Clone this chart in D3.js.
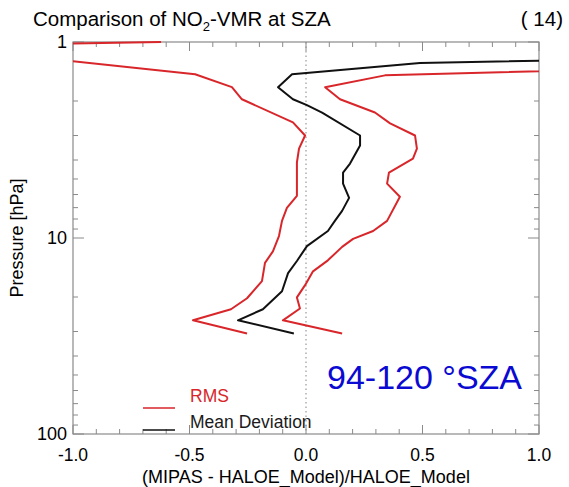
<!DOCTYPE html>
<html>
<head>
<meta charset="utf-8">
<script src="https://cdn.jsdelivr.net/npm/d3@7"></script>
<style>
  body { margin: 0; background: #fff; }
  svg text { font-family: "Liberation Sans", Arial, sans-serif; }
</style>
</head>
<body>
<svg id="chart" width="569" height="487"></svg>
<script>
// [value, pressure hPa] pairs
const rmsLeft = [
    [-0.622, 1.0], [-1.6, 1.05], [-0.476, 1.46], [-0.318, 1.70], [-0.275, 1.96],
    [-0.056, 2.57], [-0.004, 3.0], [-0.030, 3.50], [-0.039, 4.12], [-0.039, 6.09],
    [-0.082, 7.02], [-0.103, 8.18], [-0.116, 9.77], [-0.142, 11.7], [-0.176, 13.4],
    [-0.189, 16.6], [-0.253, 20.3], [-0.322, 23.1], [-0.485, 26.3], [-0.253, 30.7]
];
const meanDev = [
    [1.4, 1.22], [0.489, 1.28], [-0.060, 1.46], [-0.120, 1.70], [-0.056, 1.96],
    [0.004, 2.10], [0.069, 2.29], [0.232, 3.0], [0.232, 3.37], [0.189, 4.17],
    [0.159, 4.64], [0.159, 5.28], [0.185, 6.24], [0.155, 7.27], [0.124, 8.18],
    [0.094, 9.21], [0.004, 11.0], [-0.039, 13.1], [-0.077, 15.1], [-0.103, 18.7],
    [-0.185, 23.1], [-0.292, 26.3], [-0.052, 30.7]
];
const rmsRight = [
    [1.4, 1.37], [0.339, 1.48], [0.082, 1.70], [0.146, 1.96], [0.296, 2.29],
    [0.361, 2.60], [0.468, 3.0], [0.476, 3.50], [0.459, 3.94], [0.356, 4.64],
    [0.348, 5.28], [0.403, 6.16], [0.348, 8.18], [0.288, 9.21], [0.202, 10.1],
    [0.155, 11.1], [0.094, 13.0], [0.030, 14.8], [-0.004, 17.4], [-0.039, 20.1],
    [-0.026, 22.9], [-0.099, 26.3], [0.155, 30.7]
];

const xMajor = [-1.0, -0.5, 0.0, 0.5, 1.0];
const yMajor = [1, 10, 100];
const legendItems = ["RMS", "Mean Deviation"];

const RED = "#d8262a";
const BLACK = "#111";
const FRAME = "#8a8a8a";

const svg = d3.select("#chart");
const plot = {left: 73, right: 539, top: 42, bottom: 434};

const x = d3.scaleLinear().domain([-1, 1]).range([plot.left, plot.right]);
const y = d3.scaleLog().domain([1, 100]).range([plot.top, plot.bottom]);

svg.append("clipPath").attr("id", "clip")
  .append("rect")
    .attr("x", plot.left).attr("y", plot.top - 1)
    .attr("width", plot.right - plot.left).attr("height", plot.bottom - plot.top + 1);

// zero line
svg.append("line")
    .attr("x1", x(0)).attr("x2", x(0))
    .attr("y1", plot.top).attr("y2", plot.bottom)
    .attr("stroke", "#999").attr("stroke-width", 1.2)
    .attr("stroke-dasharray", "1.5,3");

// frame
svg.append("rect")
    .attr("x", plot.left).attr("y", plot.top)
    .attr("width", plot.right - plot.left).attr("height", plot.bottom - plot.top)
    .attr("fill", "none").attr("stroke", FRAME).attr("stroke-width", 1.2);

// inward ticks
const xMinor = d3.range(-10, 11).map(d => d / 10);
const yMinor = [];
[1, 10].forEach(dec => d3.range(1, 10).forEach(k => yMinor.push(dec * k)));
yMinor.push(100);

const ticks = svg.append("g").attr("stroke", FRAME).attr("stroke-width", 1);
xMinor.forEach(v => {
    const major = xMajor.some(m => Math.abs(m - v) < 1e-9);
    const len = major ? 9 : 5;
    ticks.append("line").attr("x1", x(v)).attr("x2", x(v))
        .attr("y1", plot.bottom).attr("y2", plot.bottom - len);
    ticks.append("line").attr("x1", x(v)).attr("x2", x(v))
        .attr("y1", plot.top).attr("y2", plot.top + len);
});
yMinor.forEach(p => {
    const major = yMajor.includes(p);
    const len = major ? 11 : 5;
    ticks.append("line").attr("y1", y(p)).attr("y2", y(p))
        .attr("x1", plot.left).attr("x2", plot.left + len);
    ticks.append("line").attr("y1", y(p)).attr("y2", y(p))
        .attr("x1", plot.right).attr("x2", plot.right - len);
});

// tick labels
svg.append("g").selectAll("text")
  .data(xMajor)
  .join("text")
    .attr("x", d => x(d))
    .attr("y", 461)
    .attr("text-anchor", "middle")
    .attr("font-size", 17.5)
    .text(d => d3.format(".1f")(d).replace("\u2212", "-"));

svg.append("g").selectAll("text")
  .data(yMajor)
  .join("text")
    .attr("x", plot.left - 6)
    .attr("y", d => y(d) + 6)
    .attr("text-anchor", "end")
    .attr("font-size", 18)
    .text(d => d);

// axis titles
svg.append("text")
    .attr("x", x(0)).attr("y", 483)
    .attr("text-anchor", "middle")
    .attr("font-size", 18)
    .text("(MIPAS - HALOE_Model)/HALOE_Model");

svg.append("text")
    .attr("transform", `translate(${[23, (plot.top + plot.bottom) / 2]}) rotate(270)`)
    .attr("text-anchor", "middle")
    .attr("font-size", 18)
    .text("Pressure [hPa]");

// title
const title = svg.append("text").attr("x", 33).attr("y", 26).attr("font-size", 20.5);
title.append("tspan").text("Comparison of NO");
title.append("tspan").attr("font-size", 13).attr("dy", 5).text("2");
title.append("tspan").attr("dy", -5).text("-VMR at SZA");

svg.append("text")
    .attr("x", 563).attr("y", 26)
    .attr("text-anchor", "end")
    .attr("font-size", 20.5)
    .text("( 14)");

// curves
const line = d3.line().x(d => x(d[0])).y(d => y(d[1]));
const curves = svg.append("g").attr("clip-path", "url(#clip)")
    .attr("fill", "none").attr("stroke-width", 2).attr("stroke-linejoin", "round");

curves.append("path").datum(rmsLeft).attr("d", line).attr("stroke", RED);
curves.append("path").datum(rmsRight).attr("d", line).attr("stroke", RED);
curves.append("path").datum(meanDev).attr("d", line).attr("stroke", BLACK);

// legend
const legend = svg.append("g");
legendItems.forEach((name, i) => {
    const color = i === 0 ? RED : BLACK;
    legend.append("line")
        .attr("x1", 143).attr("x2", 175)
        .attr("y1", 408 + i * 22).attr("y2", 408 + i * 22)
        .attr("stroke", color).attr("stroke-width", 1.5);
    legend.append("text")
        .attr("x", 190).attr("y", 402 + i * 26)
        .attr("font-size", 17.5)
        .attr("fill", i === 0 ? RED : "#1a1a1a")
        .text(name);
});

svg.append("text")
    .attr("x", 327).attr("y", 389)
    .attr("font-size", 34)
    .attr("fill", "#0a0ad2")
    .text("94-120 \u00B0SZA");
</script>
</body>
</html>
